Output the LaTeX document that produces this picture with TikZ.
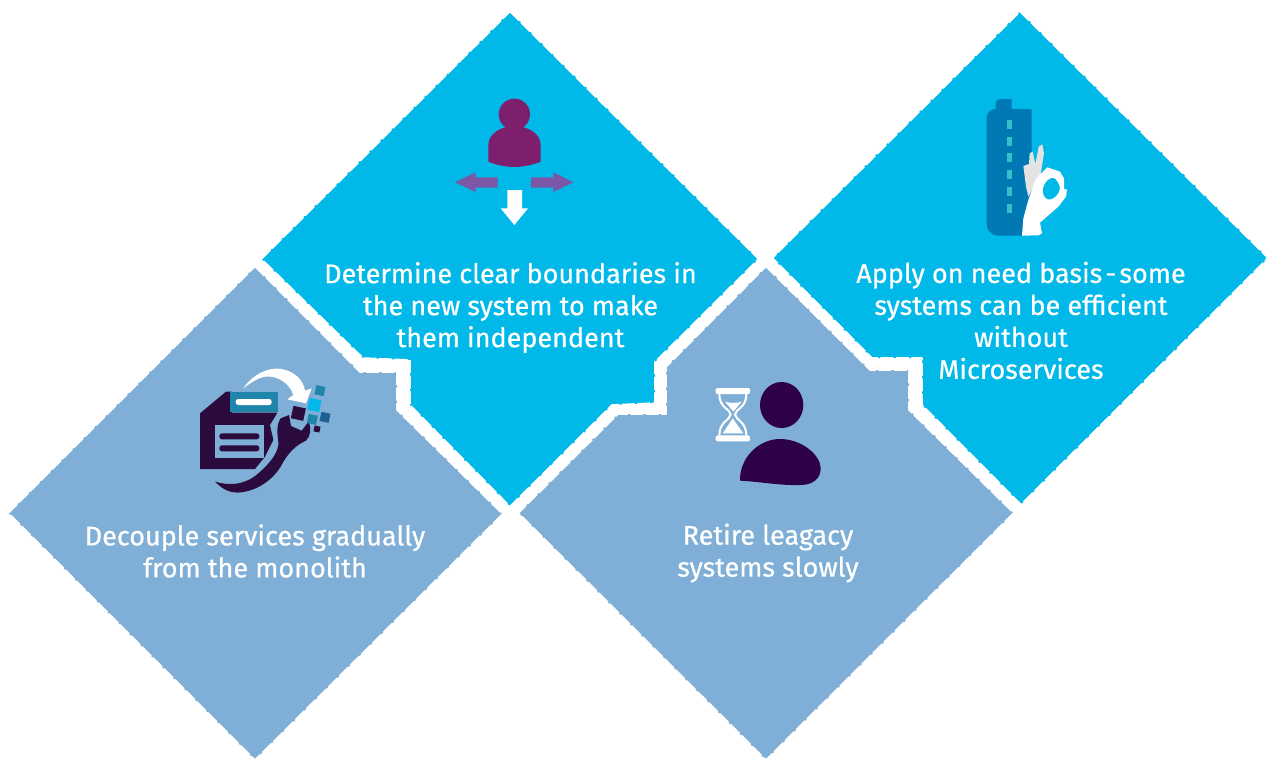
\documentclass[tikz,border=0pt]{standalone}
\usepackage{fontspec}
\newfontfamily\capfont{Fira Sans}[RawFeature={embolden=0.6}]
\definecolor{cyanbox}{HTML}{00B9E9}
\definecolor{paleblue}{HTML}{7FAFD6}
\definecolor{plumicon}{HTML}{7E1F6E}
\definecolor{arrowviolet}{HTML}{7B57A5}
\definecolor{bottleblue}{HTML}{0078B4}
\definecolor{dashteal}{HTML}{35BFC8}
\definecolor{darkink}{HTML}{2B0A3D}
\definecolor{personink}{HTML}{2D0048}
\definecolor{tealsq}{HTML}{2085AB}
\definecolor{navysq}{HTML}{1D5F92}
\definecolor{fingergray}{HTML}{E3E3E3}
\tikzset{
  boxcyan/.style={fill=cyanbox},
  boxpale/.style={fill=paleblue},
  rough/.style={draw=white,line width=1.6pt,dash pattern=on 13pt off 2.5pt,line join=round},
  caption/.style={text=white,align=center,inner sep=0pt,font=\capfont\fontsize{27}{32}\selectfont},
  iconzoom/.style={x=0.33333pt,y=-0.33333pt}
}
\newcommand{\tiltsq}[4]{\fill[#4,rotate around={-12:(#1,#2)}] ({#1-#3/2},{#2-#3/2}) rectangle ({#1+#3/2},{#2+#3/2});}
\begin{document}
\begin{tikzpicture}[x=1pt,y=-1pt]
\useasboundingbox (0,0) rectangle (1266,758);
% boxes
\path[clip] (0,0) rectangle (1266,758);
\def\shapeA{(510,11.5) -- (758.5,259) -- (655,362) -- (655,403) -- (612,405) -- (510,506.5) -- (410,405) -- (410,360) -- (363,358) -- (261.5,259) -- cycle}
\def\shapeB{(255,266.5) -- (360,372) -- (397,372) -- (397,410) -- (502.5,514) -- (255,760) -- (8.5,513) -- cycle}
\def\shapeC{(766,266.5) -- (870,370) -- (909,370) -- (909,410) -- (1013.5,513) -- (766,760) -- (518.5,513) -- (618,414) -- (666,414) -- (666,367) -- cycle}
\def\shapeD{(1020,11.5) -- (1268,258) -- (1021,504.5) -- (922,405) -- (922,358) -- (872,358) -- (772.5,258) -- cycle}
\fill[boxcyan] \shapeA;
\fill[boxpale] \shapeB;
\fill[boxpale] \shapeC;
\fill[boxcyan] \shapeD;
\draw[rough] \shapeA;
\draw[rough] \shapeB;
\draw[rough] \shapeC;
\draw[rough] \shapeD;
% captions
\node[caption] (capA) at (510.5,307.5) {Determine clear boundaries in\\the new system to make\\them independent};
\node[caption] (capB) at (255,551) {Decouple services gradually\\from the monolith};
\node[caption] (capC) at (768,553) {Retire leagacy\\systems slowly};
\node[caption] (capD) at (1021,320.5) {Apply on need basis\kern-4pt{} - \kern-4pt{}some\\systems can be efficient\\without\\Microservices};
% icon: person with arrows
\begin{scope}[shift={(440,90)},iconzoom]
\fill[plumicon] (223,73) circle[radius=47];
\fill[plumicon] (145,215) -- (145,165) .. controls (145,130) and (185,108) .. (223,108) .. controls (262,108) and (302,130) .. (302,165) -- (302,215) .. controls (250,236) and (195,236) .. (145,215) -- cycle;
\fill[arrowviolet] (45,277) -- (107,247) -- (107,262) -- (173,262) -- (173,293) -- (107,293) -- (107,306) -- cycle;
\fill[arrowviolet] (400,277) -- (340,247) -- (340,262) -- (273,262) -- (273,293) -- (340,293) -- (340,306) -- cycle;
\fill[white] (202,300) -- (246,300) -- (246,355) -- (264,355) -- (223,405) -- (182,355) -- (202,355) -- cycle;
\end{scope}
% icon: bottle and hand
\begin{scope}[shift={(960,90)},iconzoom]
\fill[bottleblue] (107,57) -- (107,42) .. controls (107,32) and (113,27) .. (122,27) -- (155,27) -- (155,57) -- (215,57) -- (215,300) -- (186,437) -- (115,437) .. controls (95,437) and (80,422) .. (80,402) -- (80,85) .. controls (80,68) and (92,57) .. (107,57) -- cycle;
\foreach \ya in {90,141,190,240,291,342} \fill[dashteal] (141,\ya) rectangle (157,\ya+27);
\fill[fingergray] (190,228) -- (207,222) -- (209,190) -- (218,185) -- (226,222) -- (236,170) -- (247,163) -- (252,190) -- (242,252) -- (205,320) -- (198,290) -- cycle;
\fill[white,even odd rule] (186,437) -- (190,385) -- (205,330) -- (228,265) -- (262,232) -- (300,245) -- (312,265) -- (312,297) -- (321,298) -- (318,320) -- (295,350) -- (240,398) -- (246,430) -- (235,436) -- cycle
  (248,300) .. controls (252,275) and (270,258) .. (285,265) .. controls (298,280) and (305,295) .. (295,310) .. controls (285,325) and (275,330) .. (262,328) .. controls (252,322) and (248,312) .. (248,300) -- cycle;
\end{scope}
% icon: floppy and wrench
\begin{scope}[shift={(190,360)},iconzoom]
\fill[darkink] (30,160) -- (108,95) -- (125,95) -- (125,158) -- (262,158) -- (240,195) -- (250,240) -- (225,290) -- (195,327) -- (30,327) -- cycle;
\fill[tealsq] (120,96) rectangle (263,156);
\fill[white,rounded corners=2.6pt] (137,117) rectangle (245,135);
\fill[paleblue] (75,195) rectangle (222,295);
\fill[darkink,rounded corners=2.6pt] (88,220) rectangle (208,238);
\fill[darkink,rounded corners=2.6pt] (88,256) rectangle (208,274);
\fill[darkink] (75,365) .. controls (120,378) and (165,375) .. (205,340) .. controls (240,310) and (268,275) .. (265,245) .. controls (262,225) and (258,195) .. (272,175) -- (297,165) -- (303,198) -- (335,212) -- (356,185) .. controls (365,205) and (362,228) .. (348,242) .. controls (318,255) and (292,280) .. (272,320) .. controls (232,384) and (160,404) .. (125,396) .. controls (105,392) and (88,378) .. (75,365) -- cycle;
\fill[white] (160,85) .. controls (190,40) and (240,20) .. (275,27) .. controls (315,35) and (340,60) .. (345,92) -- (365,85) -- (348,130) -- (292,118) -- (310,105) .. controls (300,70) and (260,45) .. (225,50) .. controls (200,55) and (180,70) .. (160,85) -- cycle;
\tiltsq{325}{160}{38}{darkink}
\tiltsq{373}{135}{36}{cyanbox}
\tiltsq{390}{92}{28}{tealsq}
\tiltsq{367}{178}{28}{tealsq}
\tiltsq{405}{172}{28}{navysq}
\tiltsq{381}{207}{18}{darkink}
\end{scope}
% icon: hourglass and person
\begin{scope}[shift={(700,370)},iconzoom]
\fill[personink] (245,105) ellipse[x radius=65,y radius=69];
\fill[personink] (120,332) .. controls (118,265) and (175,207) .. (240,207) .. controls (305,207) and (362,255) .. (362,295) .. controls (362,325) and (340,345) .. (300,345) .. controls (240,347) and (180,335) .. (120,332) -- cycle;
\fill[white,rounded corners=1.5pt] (47,54) rectangle (150,72);
\fill[white,rounded corners=1.5pt] (47,196) rectangle (150,214);
\draw[white,line width=2pt] (58,72) .. controls (58,115) and (90,115) .. (92,134) .. controls (90,150) and (58,155) .. (58,196);
\draw[white,line width=2pt] (139,72) .. controls (139,115) and (107,115) .. (105,134) .. controls (107,150) and (139,155) .. (139,196);
\fill[white] (75,95) .. controls (90,100) and (110,100) .. (125,95) -- (100,125) -- cycle;
\fill[white] (68,190) -- (85,165) -- (98,145) -- (112,165) -- (130,190) -- cycle;
\end{scope}
\end{tikzpicture}
\end{document}
